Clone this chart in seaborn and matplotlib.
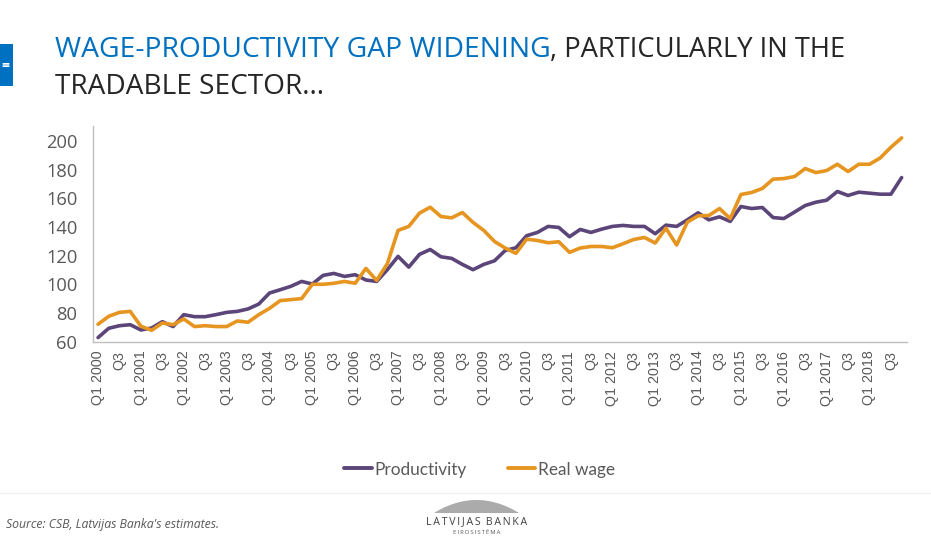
import matplotlib
matplotlib.use("Agg")
import matplotlib.pyplot as plt
from matplotlib.patches import Rectangle, Polygon
import numpy as np
import pandas as pd
import seaborn as sns

years = list(range(2000, 2019))
quarters = [f"Q{q} {y}" for y in years for q in (1, 2, 3, 4)]
tick_labels = [lab for y in years for lab in (f"Q1 {y}", "Q3")]

productivity = [62.8, 69.3, 71.1, 71.8, 68.1, 69.5, 73.9, 70.5, 78.8, 77.4, 77.4, 78.8, 80.4, 81.1, 82.8, 86.2,
                93.9, 96.2, 98.6, 102.0, 100.2, 106.2, 107.6, 105.5, 106.7, 103.0, 102.0, 110.2, 119.5, 112.0,
                120.9, 124.3, 119.2, 118.1, 113.9, 110.2, 113.9, 116.4, 123.6, 125.5, 133.9, 136.2, 140.4, 139.7,
                133.2, 138.3, 136.2, 138.5, 140.4, 141.1, 140.4, 140.4, 135.3, 141.3, 140.4, 145.0, 149.9, 145.0,
                147.1, 143.9, 154.3, 152.9, 153.6, 146.6, 145.9, 150.4, 155.0, 157.3, 158.7, 164.8, 162.0, 164.3,
                163.6, 162.9, 162.9, 174.5]
real_wage = [72.1, 77.7, 80.4, 81.1, 70.7, 67.9, 73.0, 71.8, 75.8, 70.5, 71.1, 70.5, 70.5, 74.4, 73.5, 78.8,
             83.2, 88.6, 89.3, 90.0, 100.0, 100.0, 100.7, 102.0, 100.7, 111.1, 102.7, 114.4, 137.6, 140.4,
             149.7, 153.8, 147.3, 146.4, 150.1, 143.2, 137.6, 129.9, 125.3, 121.6, 131.5, 130.6, 129.0, 129.7,
             122.3, 125.3, 126.4, 126.4, 125.5, 128.3, 131.3, 132.7, 128.8, 139.2, 127.4, 143.4, 147.8, 148.0,
             152.9, 145.9, 162.7, 164.1, 166.9, 173.4, 173.8, 175.2, 180.8, 178.0, 179.4, 183.8, 178.7, 183.8,
             183.8, 188.2, 195.7, 202.2]
y_ticks = [60, 80, 100, 120, 140, 160, 180, 200]

PURPLE = "#5B4579"
ORANGE = "#E59520"
BLUE = "#0070C0"
GREY = "#595959"
W, H = 931, 540

sns.set_theme(style="white")
plt.rcParams["font.family"] = ["Open Sans", "DejaVu Sans"]

df = pd.DataFrame({"pos": np.arange(len(quarters)), "Productivity": productivity, "Real wage": real_wage})
long = df.melt(id_vars="pos", var_name="series", value_name="value")

fig = plt.figure(figsize=(W / 100, H / 100), dpi=100, facecolor="white")
ax = fig.add_axes([92.7 / W, 1 - 341.6 / H, (907 - 92.7) / W, (341.6 - 126) / H])
sns.lineplot(data=long, x="pos", y="value", hue="series", palette=[PURPLE, ORANGE],
             linewidth=2.6, ax=ax, errorbar=None, legend=False, solid_capstyle="round")
ax.set_xlim(-0.5, len(quarters) - 0.5)
ax.set_ylim(60, 210.5)
ax.set_xlabel("")
ax.set_ylabel("")
ax.set_yticks(y_ticks)
ax.set_xticks(np.arange(0, len(quarters), 2))
ax.set_xticklabels(tick_labels, rotation=90, fontsize=10.3, color=GREY, family="Liberation Sans")
ax.tick_params(axis="x", length=0, pad=6.5)
ax.tick_params(axis="y", length=0, pad=11, labelsize=13.2, labelcolor=GREY)
for lab in ax.get_yticklabels():
    lab.set_verticalalignment("center_baseline")
for s in ("top", "right"):
    ax.spines[s].set_visible(False)
for s in ("left", "bottom"):
    ax.spines[s].set_color("#BFBFBF")
    ax.spines[s].set_linewidth(1.0)

# Legend
h = [plt.Line2D([], [], color=PURPLE, lw=2.8), plt.Line2D([], [], color=ORANGE, lw=2.8)]
fig.legend(h, ["Productivity", "Real wage"], ncol=2, frameon=False, loc="center",
           bbox_to_anchor=(479.5 / W, 1 - 469.5 / H), handlelength=1.6, handletextpad=0.15,
           columnspacing=2.4, labelcolor=GREY, prop={"family": "Lato", "size": 12.4})

# Title
fig.text(55 / W, 1 - 57 / H, "WAGE-PRODUCTIVITY GAP WIDENING", color=BLUE, fontsize=20.3, va="baseline")
fig.text(550 / W, 1 - 57 / H, ", PARTICULARLY IN THE", color="#262626", fontsize=19.75, va="baseline")
fig.text(55 / W, 1 - 94 / H, "TRADABLE SECTOR...", color="#262626", fontsize=20.2, va="baseline")

# Left tab
fig.add_artist(Rectangle((0, 1 - 86 / H), 13 / W, 42 / H, transform=fig.transFigure, color=BLUE, lw=0))
fig.text(5 / W, 1 - 66 / H, "=", color="white", fontsize=10, va="center", ha="center", weight="bold")

# Footer
fig.add_artist(plt.Line2D([0, 1], [1 - 492.5 / H] * 2, transform=fig.transFigure, color="#F0F0F0", lw=1))
fig.text(6 / W, 1 - 524.5 / H, "Source: CSB, Latvijas Banka's estimates.", fontsize=8.85, style="italic",
         color="#595959", va="center")

# Logo
xs = np.linspace(434, 519, 60)
arc = 513 - 13 * (1 - ((xs - 476.5) / 42.5) ** 2)
pts = list(zip(xs / W, 1 - arc / H))
fig.add_artist(Polygon(pts, closed=True, transform=fig.transFigure, color="#ABABAB", lw=0))
fig.text(477 / W, 1 - 521.5 / H, "\u2009".join("LATVIJAS") + "\u2009\u2009\u2009" + "\u2009".join("BANKA"),
         fontsize=7.6, color="#404040", ha="center", va="center")
fig.text(477 / W, 1 - 532.5 / H, "\u2009".join("EIROSISTĒMA"), fontsize=4.2, color="#595959", ha="center", va="center")

fig.savefig("out.png", dpi=100, facecolor="white")
